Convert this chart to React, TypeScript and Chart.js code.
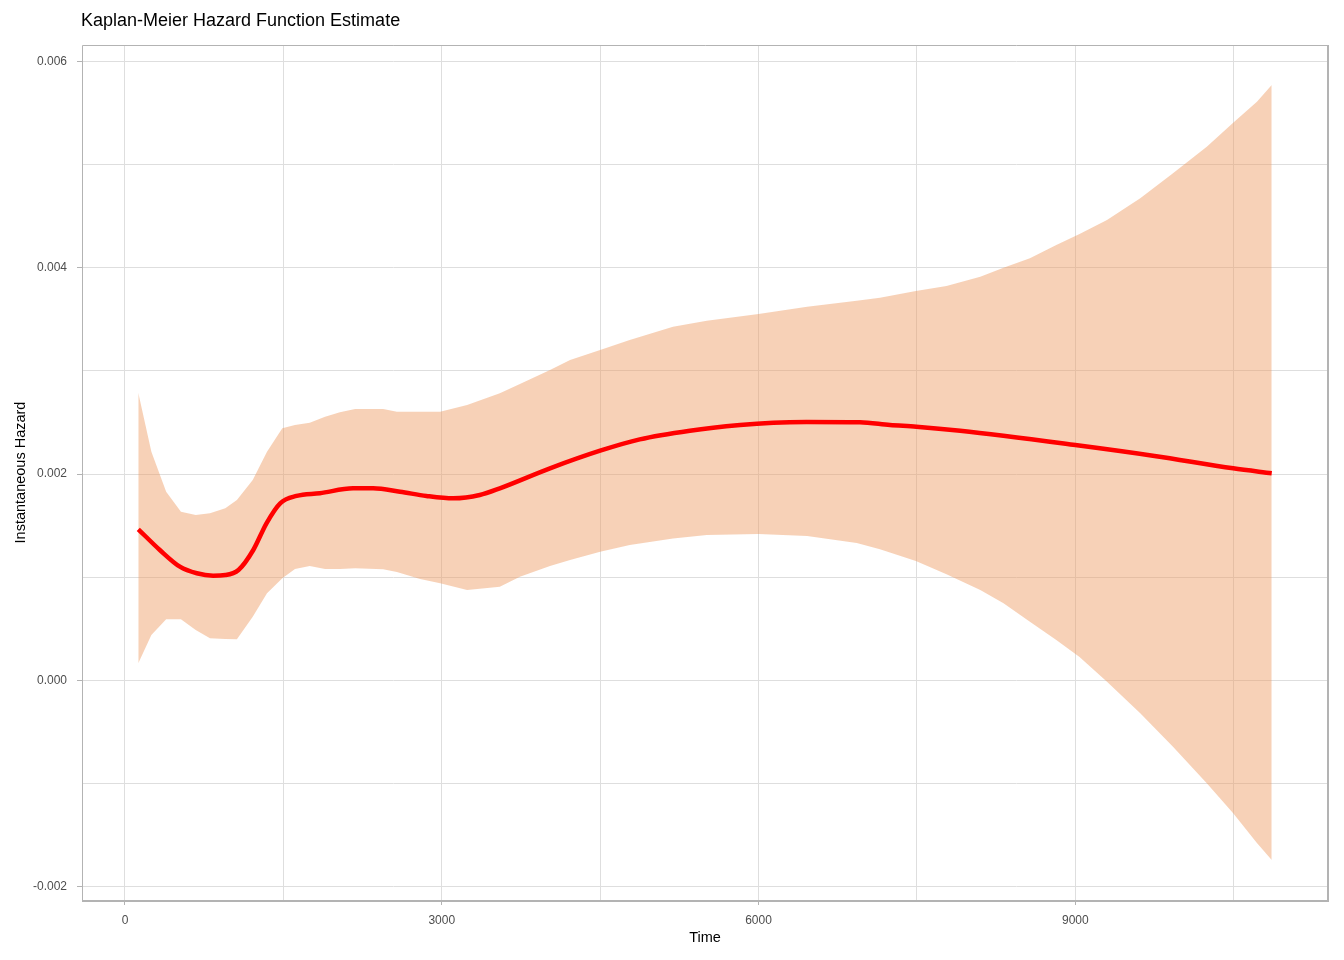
import React, { useEffect, useRef } from "react";
import { Chart, registerables } from "chart.js";

Chart.register(...registerables);

const TITLE = "Kaplan-Meier Hazard Function Estimate";
const X_LABEL = "Time";
const Y_LABEL = "Instantaneous Hazard";

// Confidence band (time, upper, lower)
const BAND_TIME = [
  126, 250, 390, 530, 670, 805, 950, 1060, 1210, 1345, 1490, 1610, 1750, 1895,
  2035, 2180, 2445, 2575, 2795, 2985, 3240, 3550, 3740, 4025, 4215, 4500, 4780,
  5190, 5510, 6000, 6460, 6930, 7150, 7490, 7780, 8100, 8320, 8570, 8820, 9040,
  9300, 9615, 9925, 10245, 10495, 10720, 10860,
];
const UPPER = [
  0.00279, 0.002217, 0.001829, 0.001635, 0.001603, 0.00162, 0.001668, 0.001749,
  0.001943, 0.002217, 0.002444, 0.002476, 0.002498, 0.002557, 0.002599,
  0.002631, 0.002631, 0.002605, 0.002605, 0.002605, 0.00267, 0.002784,
  0.002874, 0.00301, 0.003107, 0.003204, 0.003301, 0.00343, 0.003488, 0.003553,
  0.003624, 0.003682, 0.003711, 0.003776, 0.003824, 0.003915, 0.004002,
  0.004093, 0.004222, 0.004329, 0.004464, 0.004675, 0.004917, 0.005175,
  0.005408, 0.005612, 0.005774,
];
const LOWER = [
  0.000165, 0.000439, 0.000592, 0.000592, 0.000488, 0.000407, 0.000401,
  0.000398, 0.000617, 0.000844, 0.000989, 0.00108, 0.001109, 0.00108, 0.00108,
  0.001086, 0.001077, 0.00105, 0.000982, 0.000941, 0.000876, 0.000908,
  0.001005, 0.001109, 0.001167, 0.001247, 0.001312, 0.001375, 0.001409,
  0.001419, 0.0014, 0.001332, 0.001271, 0.001157, 0.001028, 0.000876,
  0.000747, 0.000568, 0.000391, 0.000226, -0.000014, -0.00032, -0.000644,
  -0.000999, -0.00129, -0.001578, -0.001743,
];

// Hazard estimate
const LINE_TIME = [
  126, 330, 520, 680, 835, 950, 1075, 1215, 1340, 1470, 1625, 1845, 2160, 2350,
  2605, 2855, 3110, 3360, 3550, 4025, 4500, 4875, 5350, 5825, 6140, 6455, 6960,
  7245, 7495, 7910, 9000, 9750, 10495, 10860,
];
const HAZARD = [
  0.001465, 0.001264, 0.001102, 0.001038, 0.001015, 0.001021, 0.00107,
  0.001264, 0.001523, 0.001717, 0.001788, 0.001814, 0.001862, 0.001862,
  0.001829, 0.001788, 0.001765, 0.001797, 0.001862, 0.002056, 0.002227,
  0.002337, 0.002421, 0.002476, 0.002498, 0.002505, 0.002502, 0.002476,
  0.00246, 0.002421, 0.002282, 0.002176, 0.002056, 0.002008,
];

const X_TICKS = [0, 1500, 3000, 4500, 6000, 7500, 9000, 10500];
const X_LABELED = [0, 3000, 6000, 9000];
const Y_TICKS = [-0.002, -0.001, 0, 0.001, 0.002, 0.003, 0.004, 0.005, 0.006];
const Y_LABELED = [-0.002, 0, 0.002, 0.004, 0.006];

const X_MIN = -407;
const X_MAX = 11393;
const Y_MIN = -0.002131;
const Y_MAX = 0.006162;

const FONT = '"Liberation Sans", Arial, Helvetica, sans-serif';
const GRID = "#DEDEDE";
const BORDER = "#B3B3B3";

const isIn = (list: number[], v: number) =>
  list.some((t) => Math.abs(t - v) < 1e-9);

const decor = {
  id: "decor",
  afterDatasetsDraw(chart: any) {
    const { ctx, chartArea } = chart;
    const { left, right, top, bottom } = chartArea;
    ctx.save();
    ctx.strokeStyle = BORDER;
    ctx.lineWidth = 1;
    ctx.beginPath();
    ctx.moveTo(left + 0.5, bottom);
    ctx.lineTo(left + 0.5, top + 0.5);
    ctx.lineTo(right, top + 0.5);
    ctx.stroke();
    ctx.lineWidth = 2;
    ctx.beginPath();
    ctx.moveTo(right, top);
    ctx.lineTo(right, bottom + 1);
    ctx.lineTo(left, bottom + 1);
    ctx.stroke();
    ctx.restore();
  },
  afterDraw(chart: any) {
    const { ctx, chartArea } = chart;
    ctx.save();
    ctx.font = `18px ${FONT}`;
    ctx.fillStyle = "#000000";
    ctx.textAlign = "left";
    ctx.textBaseline = "middle";
    ctx.fillText(TITLE, chartArea.left - 1, 21);
    ctx.restore();
  },
};

export default function App() {
  const ref = useRef<HTMLCanvasElement | null>(null);

  useEffect(() => {
    if (!ref.current) return;
    const band = BAND_TIME.map((t, i) => ({ x: t, y: UPPER[i] }));
    const bandLow = BAND_TIME.map((t, i) => ({ x: t, y: LOWER[i] }));
    const line = LINE_TIME.map((t, i) => ({ x: t, y: HAZARD[i] }));

    const chart = new Chart(ref.current, {
      type: "line",
      data: {
        datasets: [
          {
            label: "hazard",
            data: line,
            borderColor: "#FF0000",
            borderWidth: 4.5,
            pointRadius: 0,
            cubicInterpolationMode: "monotone",
            fill: false,
          },
          {
            label: "upper",
            data: band,
            borderWidth: 0,
            borderColor: "rgba(0,0,0,0)",
            pointRadius: 0,
            tension: 0,
            fill: "+1",
            backgroundColor: "rgba(238,153,95,0.45)",
          },
          {
            label: "lower",
            data: bandLow,
            borderWidth: 0,
            borderColor: "rgba(0,0,0,0)",
            pointRadius: 0,
            tension: 0,
            fill: false,
          },
        ],
      },
      options: {
        animation: false,
        responsive: false,
        devicePixelRatio: 1,
        layout: { padding: { top: 45, left: 0, right: 16, bottom: 0 } },
        plugins: {
          legend: { display: false },
          title: { display: false },
          tooltip: { enabled: false },
        },
        scales: {
          x: {
            type: "linear",
            min: X_MIN,
            max: X_MAX,
            afterBuildTicks: (scale: any) => {
              scale.ticks = X_TICKS.map((v) => ({ value: v }));
            },
            afterFit: (scale: any) => {
              scale.height = 60;
            },
            border: { display: false },
            grid: {
              color: GRID,
              lineWidth: 1,
              tickLength: 5,
              tickColor: (c: any) =>
                c.tick && isIn(X_LABELED, c.tick.value) ? BORDER : "rgba(0,0,0,0)",
            },
            ticks: {
              autoSkip: false,
              maxRotation: 0,
              padding: 8,
              color: "#4D4D4D",
              font: { family: FONT, size: 12 },
              callback: (v: any) => (isIn(X_LABELED, Number(v)) ? String(v) : ""),
            },
            title: {
              display: true,
              text: X_LABEL,
              color: "#000000",
              font: { family: FONT, size: 14.5 },
              padding: { top: 0, bottom: 13 },
            },
          },
          y: {
            type: "linear",
            min: Y_MIN,
            max: Y_MAX,
            afterBuildTicks: (scale: any) => {
              scale.ticks = Y_TICKS.map((v) => ({ value: v }));
            },
            afterFit: (scale: any) => {
              scale.width = 82;
            },
            border: { display: false },
            grid: {
              color: GRID,
              lineWidth: 1,
              tickLength: 5,
              tickColor: (c: any) =>
                c.tick && isIn(Y_LABELED, c.tick.value) ? BORDER : "rgba(0,0,0,0)",
            },
            ticks: {
              autoSkip: false,
              padding: 10,
              color: "#4D4D4D",
              font: { family: FONT, size: 12 },
              callback: (v: any) =>
                isIn(Y_LABELED, Number(v)) ? Number(v).toFixed(3) : "",
            },
            title: {
              display: true,
              text: Y_LABEL,
              color: "#000000",
              font: { family: FONT, size: 14.5 },
              padding: { top: 12, bottom: 0 },
            },
          },
        },
      },
      plugins: [decor],
    } as any);

    return () => chart.destroy();
  }, []);

  return (
    <div style={{ position: "fixed", left: 0, top: 0, width: 1344, height: 960, background: "#fff" }}>
      <canvas ref={ref} width={1344} height={960} />
    </div>
  );
}
